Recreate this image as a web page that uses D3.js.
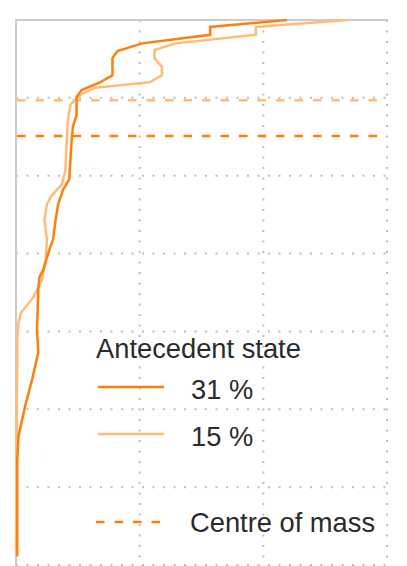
<!DOCTYPE html>
<html>
<head>
<meta charset="utf-8">
<script src="https://cdn.jsdelivr.net/npm/d3@7"></script>
<style>
  body { margin: 0; background: #fff; }
  text { font-family: "Liberation Sans", Arial, sans-serif; fill: #2b2b2b; }
</style>
</head>
<body>
<div id="charts"></div>
<script>

var width = 407,
    height = 566;

// profiles, depth (y) going down, value (x) going right
var depth31 = [0, 0.09, 0.19, 0.30, 0.40, 0.49, 0.71, 0.80, 0.90, 0.99, 1.22, 1.37, 1.54, 2.05, 2.18, 2.37, 2.57, 2.82, 2.95, 3.21, 3.30, 3.47, 3.98, 4.27, 4.62, 4.92, 5.13, 5.35, 5.65, 6.89];
var value31 = [2.19, 1.57, 1.57, 1.02, 0.82, 0.78, 0.78, 0.68, 0.53, 0.49, 0.49, 0.46, 0.45, 0.43, 0.38, 0.34, 0.32, 0.30, 0.27, 0.22, 0.19, 0.18, 0.17, 0.18, 0.13, 0.08, 0.05, 0.02, 0.01, 0.01];

var depth15 = [0, 0.09, 0.19, 0.30, 0.385, 0.49, 0.60, 0.71, 0.80, 0.87, 0.96, 1.09, 1.28, 1.54, 1.93, 2.11, 2.25, 2.37, 2.57, 2.82, 3.08, 3.34, 3.56, 3.76, 3.89, 4.11, 6.87];
var value15 = [2.68, 1.94, 1.94, 1.29, 1.12, 1.12, 1.18, 1.18, 1.08, 0.64, 0.52, 0.44, 0.42, 0.41, 0.40, 0.37, 0.29, 0.25, 0.23, 0.25, 0.24, 0.21, 0.14, 0.04, 0.02, 0.01, 0];

var centres = [1.49, 1.03];   // 31 %, 15 %
var labels = ["31 %", "15 %"];
var colors = ["#ff7f0e", "#ffbb78"];
var xTicks = [1, 2, 3];
var yTicks = [1, 2, 3, 4, 5, 6, 7];

var x = d3.scaleLinear().domain([0, 3]).range([16, 387]);
var y = d3.scaleLinear().domain([0, 7]).range([20, 565]);

var svg = d3.select("#charts").append("svg")
  .attr("width", width)
  .attr("height", height);

// grid
svg.selectAll(".vgrid").data(xTicks).enter().append("line")
  .attr("x1", d => x(d)).attr("x2", d => x(d))
  .attr("y1", y(0)).attr("y2", height)
  .attr("stroke", "#bdbdbd").attr("stroke-width", 2)
  .attr("stroke-dasharray", "2,8.5");
svg.selectAll(".hgrid").data(yTicks).enter().append("line")
  .attr("x1", x(0)).attr("x2", x(3) + 1)
  .attr("y1", d => y(d)).attr("y2", d => y(d))
  .attr("stroke", "#bdbdbd").attr("stroke-width", 2)
  .attr("stroke-dasharray", "2,8.5");

// spines (top and left)
svg.append("line")
  .attr("x1", x(0) - 1).attr("x2", x(3) + 1)
  .attr("y1", y(0)).attr("y2", y(0))
  .attr("stroke", "#cccccc").attr("stroke-width", 2);
svg.append("line")
  .attr("x1", x(0)).attr("x2", x(0))
  .attr("y1", y(0) - 1).attr("y2", height)
  .attr("stroke", "#cccccc").attr("stroke-width", 2);

// centre of mass
var cm = centres.map((c, i) => ({c: c, color: colors[i]})).reverse();
svg.selectAll(".cm").data(cm).enter().append("line")
  .attr("x1", x(0) + 1).attr("x2", x(3))
  .attr("y1", d => y(d.c)).attr("y2", d => y(d.c))
  .attr("stroke", d => d.color).attr("stroke-width", 2.5)
  .attr("stroke-dasharray", "8.5,10");

// profiles
var line = d3.line().x(d => x(d[0])).y(d => y(d[1]));
var profiles = [
  {pts: d3.zip(value15, depth15), color: colors[1]},
  {pts: d3.zip(value31, depth31), color: colors[0]}
];
svg.selectAll(".profile").data(profiles).enter().append("path")
  .attr("d", d => line(d.pts))
  .attr("fill", "none")
  .attr("stroke", d => d.color)
  .attr("stroke-width", 2.5)
  .attr("stroke-linejoin", "miter");

// legend
var legend = svg.append("g");
legend.append("text")
  .attr("x", 96).attr("y", 358)
  .style("font-size", "27.3px")
  .text("Antecedent state");

labels.forEach(function(l, i) {
  var ly = 387 + i * 47;
  legend.append("line")
    .attr("x1", 98).attr("x2", 164)
    .attr("y1", ly).attr("y2", ly)
    .attr("stroke", colors[i]).attr("stroke-width", 2.5);
  legend.append("text")
    .attr("x", 191).attr("y", ly + 12)
    .style("font-size", "27.3px")
    .text(l);
});

legend.append("line")
  .attr("x1", 96).attr("x2", 164)
  .attr("y1", 522).attr("y2", 522)
  .attr("stroke", colors[0]).attr("stroke-width", 2.5)
  .attr("stroke-dasharray", "8.5,10");
legend.append("text")
  .attr("x", 190).attr("y", 532)
  .style("font-size", "27.3px")
  .text("Centre of mass");

</script>
</body>
</html>
